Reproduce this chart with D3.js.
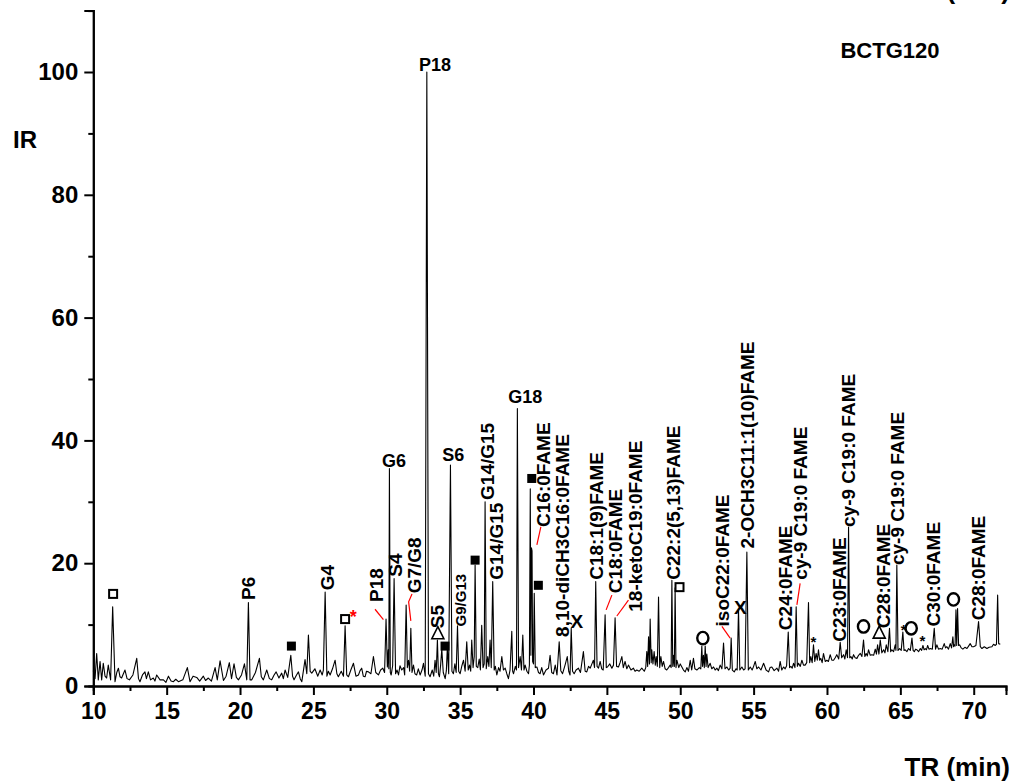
<!DOCTYPE html>
<html>
<head>
<meta charset="utf-8">
<script src="https://cdn.jsdelivr.net/npm/d3@7"></script>
<style>
  body { margin: 0; background: #fff; }
  svg text { font-family: "Liberation Sans", Arial, sans-serif; font-weight: bold; }
</style>
</head>
<body>
<svg id="chart" width="1015" height="782"></svg>
<script>
// chromatogram trace: [TR (min), IR]
const tracePoints = [
  [10.0, 2.5], [10.12, 1.2], [10.23, 5.3], [10.34, 1.0], [10.46, 4.0], [10.57, 1.0], [10.68, 3.7], [10.8, 1.6],
  [10.91, 1.3], [11.02, 3.4], [11.18, 1.0], [11.32, 12.9], [11.48, 0.7], [11.6, 2.2], [11.71, 2.9], [11.82, 1.5],
  [11.93, 1.3], [12.05, 2.0], [12.16, 2.6], [12.3, 1.2], [12.46, 1.0], [12.7, 1.8], [12.96, 4.5], [13.08, 1.2],
  [13.18, 0.7], [13.35, 1.8], [13.52, 2.3], [13.62, 1.2], [13.75, 2.3], [13.9, 1.0], [14.09, 1.3], [14.2, 0.8],
  [14.32, 1.8], [14.55, 1.0], [14.78, 1.0], [14.95, 0.6], [15.12, 1.6], [15.3, 0.8], [15.46, 0.7], [15.62, 1.1],
  [15.8, 0.7], [16.1, 1.0], [16.41, 3.0], [16.59, 0.7], [16.8, 1.6], [17.05, 1.4], [17.25, 0.8], [17.5, 1.6],
  [17.65, 0.9], [17.84, 1.3], [18.05, 0.8], [18.3, 3.0], [18.45, 1.0], [18.64, 4.1], [18.87, 0.9], [19.05, 1.6],
  [19.27, 3.8], [19.42, 1.2], [19.59, 3.6], [19.75, 1.4], [19.89, 1.0], [20.1, 1.8], [20.3, 3.6], [20.46, 1.0],
  [20.57, 13.6], [20.68, 1.0], [20.8, 1.0], [21.05, 2.2], [21.32, 4.5], [21.45, 1.5], [21.59, 1.0], [21.82, 2.6],
  [22.0, 1.2], [22.16, 1.0], [22.32, 1.8], [22.46, 2.3], [22.65, 1.3], [22.84, 2.1], [22.95, 1.2], [23.07, 2.6],
  [23.25, 1.4], [23.46, 5.0], [23.58, 1.6], [23.68, 1.0], [23.85, 1.8], [23.98, 2.3], [24.1, 1.2], [24.21, 0.7],
  [24.43, 4.3], [24.55, 2.0], [24.66, 8.3], [24.78, 2.4], [24.89, 2.1], [25.1, 2.8], [25.3, 1.6], [25.46, 2.6],
  [25.6, 1.8], [25.68, 2.6], [25.8, 15.3], [25.92, 1.6], [26.02, 2.4], [26.14, 1.8], [26.3, 2.8], [26.48, 4.2],
  [26.6, 2.0], [26.7, 1.5], [26.9, 2.4], [27.05, 1.6], [27.16, 9.8], [27.27, 1.8], [27.39, 1.5], [27.55, 2.6],
  [27.73, 3.7], [27.9, 1.6], [28.07, 1.8], [28.18, 2.5], [28.29, 2.9], [28.4, 1.6], [28.52, 1.5], [28.62, 2.4],
  [28.75, 2.3], [28.92, 2.0], [29.09, 4.8], [29.25, 2.2], [29.43, 1.8], [29.58, 2.6], [29.73, 2.9], [29.85, 2.2],
  [29.95, 10.9], [30.04, 3.1], [30.1, 5.9], [30.14, 2.8], [30.18, 35.4], [30.24, 2.2], [30.3, 1.8], [30.4, 3.3],
  [30.5, 17.5], [30.6, 2.0], [30.7, 2.6], [30.8, 1.8], [30.9, 3.3], [31.02, 2.6], [31.15, 3.0], [31.22, 1.8],
  [31.32, 13.2], [31.4, 3.0], [31.48, 4.2], [31.56, 2.4], [31.64, 9.4], [31.72, 2.2], [31.82, 3.4], [31.92, 2.0],
  [32.04, 1.8], [32.15, 2.8], [32.27, 1.8], [32.4, 2.6], [32.5, 3.7], [32.62, 1.6], [32.73, 100], [32.84, 2.0],
  [32.95, 1.5], [33.1, 2.6], [33.2, 1.6], [33.29, 4.2], [33.37, 2.2], [33.45, 7.5], [33.52, 2.0], [33.59, 1.5],
  [33.67, 3.4], [33.75, 6.0], [33.85, 2.2], [33.98, 1.2], [34.06, 2.5], [34.13, 6.4], [34.22, 2.0], [34.34, 36.0],
  [34.44, 2.4], [34.54, 2.0], [34.64, 3.6], [34.73, 2.2], [34.82, 9.8], [34.9, 2.4], [35.0, 2.0], [35.12, 3.3],
  [35.23, 4.2], [35.34, 2.4], [35.45, 7.2], [35.55, 2.6], [35.64, 3.4], [35.72, 2.4], [35.79, 7.5], [35.88, 3.0],
  [35.96, 4.8], [36.02, 19.7], [36.1, 3.2], [36.2, 3.0], [36.3, 4.4], [36.38, 2.6], [36.47, 9.9], [36.56, 3.0],
  [36.64, 3.6], [36.7, 30.0], [36.78, 2.8], [36.88, 4.8], [36.96, 3.2], [37.04, 7.5], [37.12, 3.0], [37.22, 17.0],
  [37.32, 2.6], [37.4, 3.2], [37.5, 1.8], [37.62, 3.0], [37.72, 2.4], [37.84, 4.8], [37.95, 2.6], [38.07, 2.9],
  [38.18, 2.0], [38.29, 1.2], [38.4, 2.6], [38.52, 8.9], [38.58, 2.4], [38.64, 2.0], [38.76, 3.2], [38.84, 2.6],
  [38.9, 45.2], [38.98, 3.0], [39.09, 4.8], [39.18, 2.6], [39.27, 8.3], [39.35, 2.6], [39.43, 3.4], [39.55, 2.4],
  [39.66, 2.0], [39.72, 3.4], [39.78, 32.1], [39.82, 5.0], [39.86, 22.5], [39.9, 22.0], [39.94, 4.0], [40.0, 3.6],
  [40.05, 15.1], [40.12, 3.0], [40.23, 3.1], [40.34, 2.2], [40.45, 2.0], [40.56, 3.0], [40.68, 1.8], [40.85, 2.6],
  [41.02, 2.9], [41.13, 5.0], [41.24, 2.2], [41.36, 2.0], [41.48, 3.4], [41.6, 1.8], [41.75, 7.2], [41.86, 2.5],
  [41.98, 2.0], [42.15, 3.4], [42.3, 4.8], [42.4, 2.4], [42.49, 1.8], [42.57, 9.4], [42.66, 2.4], [42.77, 2.0],
  [42.9, 2.6], [43.06, 2.9], [43.2, 2.2], [43.4, 5.6], [43.52, 2.4], [43.63, 2.3], [43.75, 3.2], [43.86, 2.9],
  [43.98, 3.6], [44.08, 4.2], [44.16, 3.0], [44.24, 17.0], [44.33, 3.2], [44.43, 2.9], [44.54, 4.0], [44.65, 2.8],
  [44.75, 2.6], [44.88, 11.6], [44.96, 3.0], [45.04, 3.1], [45.2, 3.6], [45.34, 2.9], [45.45, 3.4], [45.56, 11.1],
  [45.66, 3.2], [45.79, 3.1], [45.9, 3.8], [46.02, 4.8], [46.12, 3.0], [46.24, 4.0], [46.36, 2.8], [46.47, 3.4],
  [46.64, 2.6], [46.81, 2.9], [46.92, 2.4], [47.04, 2.6], [47.2, 2.4], [47.38, 2.9], [47.55, 2.4], [47.65, 3.0],
  [47.72, 5.6], [47.78, 3.2], [47.84, 8.0], [47.9, 3.6], [47.95, 10.9], [48.02, 3.8], [48.06, 5.9], [48.14, 3.6],
  [48.22, 5.6], [48.3, 3.4], [48.36, 4.8], [48.44, 3.2], [48.52, 14.5], [48.6, 3.0], [48.68, 4.8], [48.77, 3.2],
  [48.86, 4.0], [48.97, 2.8], [49.08, 2.6], [49.2, 3.0], [49.31, 3.4], [49.38, 3.0], [49.43, 17.2], [49.49, 3.2],
  [49.54, 5.0], [49.6, 3.2], [49.65, 16.0], [49.71, 3.0], [49.77, 4.2], [49.9, 3.0], [50.0, 3.6], [50.11, 3.1],
  [50.22, 2.6], [50.34, 2.3], [50.45, 3.0], [50.56, 2.4], [50.68, 4.2], [50.78, 2.6], [50.9, 4.5], [51.0, 2.8],
  [51.13, 2.6], [51.3, 3.0], [51.4, 2.8], [51.47, 6.5], [51.52, 3.2], [51.58, 5.0], [51.64, 3.0], [51.7, 6.5],
  [51.76, 3.2], [51.81, 5.2], [51.9, 3.0], [52.04, 3.7], [52.15, 2.8], [52.27, 3.1], [52.38, 2.6], [52.5, 2.9],
  [52.6, 2.5], [52.72, 3.4], [52.84, 2.8], [52.95, 7.0], [53.05, 2.8], [53.18, 3.1], [53.3, 2.6], [53.4, 2.9],
  [53.47, 7.8], [53.55, 2.6], [53.68, 2.3], [53.8, 2.8], [53.88, 2.6], [53.97, 12.5], [54.06, 2.6], [54.2, 3.1],
  [54.32, 2.6], [54.42, 2.8], [54.54, 21.8], [54.64, 2.6], [54.77, 3.1], [54.9, 2.6], [55.0, 3.2], [55.11, 4.0],
  [55.22, 2.8], [55.34, 3.1], [55.5, 2.6], [55.68, 3.7], [55.85, 2.6], [56.02, 2.3], [56.12, 3.0], [56.24, 3.1],
  [56.4, 2.5], [56.59, 2.9], [56.7, 2.4], [56.81, 4.0], [56.92, 2.6], [57.04, 3.1], [57.15, 2.8], [57.25, 3.3],
  [57.36, 8.8], [57.45, 3.0], [57.54, 3.2], [57.63, 2.9], [57.72, 3.7], [57.82, 3.0], [57.9, 12.9], [57.98, 3.2],
  [58.06, 3.7], [58.18, 3.2], [58.29, 4.2], [58.4, 3.4], [58.51, 3.4], [58.62, 3.8], [58.74, 13.6], [58.82, 3.8],
  [58.9, 4.8], [58.99, 3.8], [59.08, 6.7], [59.17, 4.0], [59.26, 5.3], [59.34, 4.2], [59.42, 5.9], [59.5, 4.2],
  [59.58, 4.5], [59.67, 3.8], [59.76, 5.3], [59.88, 4.0], [59.99, 4.2], [60.1, 4.0], [60.22, 5.1], [60.33, 4.2],
  [60.45, 4.2], [60.56, 4.6], [60.67, 5.1], [60.8, 4.4], [60.9, 7.1], [61.0, 4.6], [61.13, 5.1], [61.22, 4.4],
  [61.31, 5.9], [61.4, 4.6], [61.47, 25.9], [61.55, 4.6], [61.63, 4.8], [61.72, 4.4], [61.81, 5.1], [61.92, 4.6],
  [62.04, 4.5], [62.15, 5.0], [62.27, 5.3], [62.38, 4.8], [62.49, 7.5], [62.58, 4.8], [62.67, 5.3], [62.75, 4.9],
  [62.83, 5.9], [62.95, 5.0], [63.06, 5.1], [63.18, 5.0], [63.29, 6.0], [63.37, 5.2], [63.45, 6.7], [63.54, 5.2],
  [63.63, 7.5], [63.74, 5.4], [63.86, 5.9], [63.95, 5.4], [64.04, 6.7], [64.15, 5.6], [64.26, 9.4], [64.34, 5.6],
  [64.42, 5.9], [64.54, 5.6], [64.65, 6.7], [64.7, 5.8], [64.76, 19.7], [64.84, 5.8], [64.95, 6.1], [65.06, 5.8],
  [65.17, 8.8], [65.25, 5.8], [65.33, 5.9], [65.45, 5.6], [65.56, 6.1], [65.68, 5.8], [65.79, 7.8], [65.87, 5.8],
  [65.95, 5.6], [66.04, 6.0], [66.13, 5.9], [66.25, 5.6], [66.36, 6.1], [66.45, 5.8], [66.54, 6.6], [66.62, 5.9],
  [66.7, 6.1], [66.78, 5.9], [66.86, 6.6], [66.95, 6.0], [67.04, 6.1], [67.18, 6.0], [67.31, 9.4], [67.4, 6.0],
  [67.49, 6.7], [67.6, 6.0], [67.72, 6.1], [67.85, 6.0], [67.99, 6.9], [68.08, 6.2], [68.17, 6.4], [68.28, 6.0],
  [68.4, 6.9], [68.49, 6.2], [68.58, 8.0], [68.63, 6.4], [68.67, 6.7], [68.73, 6.5], [68.79, 12.4], [68.84, 6.6],
  [68.9, 12.6], [68.97, 6.6], [69.04, 6.7], [69.15, 6.2], [69.26, 6.0], [69.4, 6.3], [69.54, 6.1], [69.65, 6.5],
  [69.76, 6.9], [69.88, 6.4], [69.99, 6.4], [70.15, 6.6], [70.33, 10.5], [70.45, 6.4], [70.56, 6.1], [70.72, 6.4],
  [70.9, 6.1], [71.05, 6.3], [71.24, 6.4], [71.35, 6.8], [71.47, 6.6], [71.55, 6.8], [71.63, 14.8], [71.7, 6.9],
  [71.81, 6.8]
];

// vertical peak names: [TR, IR at start of text, text]
const peakLabels = [
  [20.57, 14.0, "P6"],
  [25.91, 15.6, "G4"],
  [29.27, 13.7, "P18"],
  [30.57, 17.8, "S4"],
  [31.86, 15.1, "G7/G8"],
  [33.41, 9.4, "S5"],
  [36.86, 30.3, "G14/G15"],
  [37.43, 17.3, "G14/G15"],
  [40.67, 25.9, "C16:0FAME"],
  [41.97, 8.0, "8,10-diCH3C16:0FAME"],
  [44.25, 17.3, "C18:1(9)FAME"],
  [45.56, 15.1, "C18:0FAME"],
  [46.93, 12.1, "18-ketoC19:0FAME"],
  [49.54, 17.3, "C22:2(5,13)FAME"],
  [52.84, 9.7, "isoC22:0FAME"],
  [54.54, 22.4, "2-OCH3C11:1(10)FAME"],
  [57.15, 9.1, "C24:0FAME"],
  [58.17, 17.3, "cy-9 C19:0 FAME"],
  [60.85, 7.2, "C23:0FAME"],
  [61.47, 25.9, "cy-9 C19:0 FAME"],
  [63.81, 9.4, "C28:0FAME"],
  [64.77, 19.7, "cy-9 C19:0 FAME"],
  [67.26, 9.7, "C30:0FAME"],
  [70.33, 10.7, "C28:0FAME"]
];
const smallLabels = [[35.0, 9.7, "G9/G13"]];

// horizontal peak names: [TR, IR of baseline, text]
const topLabels = [
  [33.29, 100.2, "P18"],
  [30.5, 35.7, "G6"],
  [34.54, 36.6, "S6"],
  [39.43, 46.1, "G18"]
];

// symbols: [TR, IR, kind]
const symbols = [
  [11.35, 15.0, "openSquare"],
  [23.5, 6.5, "square"],
  [27.16, 10.9, "openSquare"],
  [27.72, 12.1, "redStar"],
  [33.48, 8.6, "triangle"],
  [33.97, 6.5, "square"],
  [36.02, 20.5, "square"],
  [39.88, 33.8, "square"],
  [40.33, 16.4, "square"],
  [42.95, 10.5, "cross"],
  [49.95, 16.1, "openSquare"],
  [51.54, 7.8, "circle"],
  [54.1, 12.8, "cross"],
  [59.08, 7.8, "star"],
  [62.49, 9.7, "circle"],
  [63.56, 8.7, "triangle"],
  [65.22, 9.9, "star"],
  [65.74, 9.4, "circle"],
  [66.51, 8.0, "star"],
  [68.62, 14.1, "circle"]
];

// red leader lines
const leaders = [
  [[29.2, 12.5], [29.77, 10.8]],
  [[31.72, 15.0], [31.49, 13.7], [31.64, 10.6]],
  [[40.5, 25.9], [40.23, 23.0]],
  [[45.34, 14.8], [44.95, 12.4]],
  [[46.47, 14.0], [45.68, 11.4]],
  [[52.84, 9.7], [53.4, 7.8]],
  [[58.17, 16.7], [57.95, 13.2]]
];

const xMajorTicks = [10, 15, 20, 25, 30, 35, 40, 45, 50, 55, 60, 65, 70];
const yMajorTicks = [0, 20, 40, 60, 80, 100];

const margin = { top: 10.6, right: 9, bottom: 96, left: 93.3 };
const width = 1015 - margin.left - margin.right;
const height = 782 - margin.top - margin.bottom;

const svg = d3.select("#chart");
const g = svg.append("g").attr("transform", `translate(${margin.left},${margin.top})`);

const x = d3.scaleLinear().domain([10, 72.2]).range([0, width]);
const y = d3.scaleLinear().domain([0, 110]).range([height, 0]);

// axes
const xMinor = d3.axisBottom(x).tickValues(d3.range(12.5, 72.2, 5)).tickSize(5).tickFormat("");
const xMajor = d3.axisBottom(x).tickValues(xMajorTicks).tickSize(9).tickPadding(8);
const yMinor = d3.axisLeft(y).tickValues(d3.range(10, 111, 20)).tickSize(5).tickFormat("");
const yMajor = d3.axisLeft(y).tickValues(yMajorTicks).tickSize(9).tickPadding(6);

function styleAxis(sel, size) {
  sel.select(".domain").attr("stroke", "#000").attr("stroke-width", 2);
  sel.selectAll(".tick line").attr("stroke", "#000").attr("stroke-width", 2);
  sel.selectAll(".tick text").attr("fill", "#000")
    .style("font-size", size + "px").style("font-family", "'Liberation Sans', Arial, sans-serif")
    .style("font-weight", "bold");
}

g.append("g").attr("transform", `translate(0,${height})`).call(xMinor).call(s => styleAxis(s, 23));
g.append("g").attr("transform", `translate(0,${height})`).call(xMajor).call(s => styleAxis(s, 23));
g.append("g").call(yMinor).call(s => styleAxis(s, 24));
g.append("g").call(yMajor).call(s => styleAxis(s, 24));

// trace
const line = d3.line().x(d => x(d[0])).y(d => y(d[1]));
g.append("path")
  .datum(tracePoints)
  .attr("fill", "none")
  .attr("stroke", "#000")
  .attr("stroke-width", 1.1)
  .attr("stroke-linejoin", "round")
  .attr("d", line);

// red leaders
g.selectAll(".leader")
  .data(leaders)
  .join("path")
  .attr("class", "leader")
  .attr("fill", "none")
  .attr("stroke", "#ff0000")
  .attr("stroke-width", 1.2)
  .attr("d", d3.line().x(d => x(d[0])).y(d => y(d[1])));

// vertical labels
g.selectAll(".vlabel")
  .data(peakLabels)
  .join("text")
  .attr("class", "vlabel")
  .attr("transform", d => `translate(${x(d[0])},${y(d[1])}) rotate(-90)`)
  .attr("dy", "0.36em")
  .style("font-size", "19px")
  .text(d => d[2]);

g.selectAll(".slabel")
  .data(smallLabels)
  .join("text")
  .attr("class", "slabel")
  .attr("transform", d => `translate(${x(d[0])},${y(d[1])}) rotate(-90)`)
  .attr("dy", "0.36em")
  .style("font-size", "15px")
  .text(d => d[2]);

g.selectAll(".hlabel")
  .data(topLabels)
  .join("text")
  .attr("class", "hlabel")
  .attr("x", d => x(d[0]))
  .attr("y", d => y(d[1]))
  .attr("text-anchor", "middle")
  .style("font-size", "18px")
  .text(d => d[2]);

// symbols
const sym = g.selectAll(".sym")
  .data(symbols)
  .join("g")
  .attr("class", "sym")
  .attr("transform", d => `translate(${x(d[0])},${y(d[1])})`);

sym.filter(d => d[2] === "openSquare").append("rect")
  .attr("x", -4).attr("y", -4).attr("width", 8).attr("height", 8)
  .attr("fill", "#fff").attr("stroke", "#000").attr("stroke-width", 2);
sym.filter(d => d[2] === "square").append("rect")
  .attr("x", -4.5).attr("y", -4.5).attr("width", 9).attr("height", 9)
  .attr("fill", "#000");
sym.filter(d => d[2] === "triangle").append("path")
  .attr("d", "M0,-6.5L6,5.5L-6,5.5Z")
  .attr("fill", "#fff").attr("stroke", "#000").attr("stroke-width", 1.6);
sym.filter(d => d[2] === "circle").append("ellipse")
  .attr("rx", 5.6).attr("ry", 6.2)
  .attr("fill", "none").attr("stroke", "#000").attr("stroke-width", 2.4);
sym.filter(d => d[2] === "cross").append("text")
  .attr("text-anchor", "middle").attr("dy", "0.36em")
  .style("font-size", "19px")
  .text("X");
sym.filter(d => d[2] === "star").append("text")
  .attr("text-anchor", "middle").attr("dy", "0.62em")
  .style("font-size", "15px")
  .text("*");
sym.filter(d => d[2] === "redStar").append("text")
  .attr("text-anchor", "middle").attr("dy", "0.62em")
  .attr("fill", "#ff0000")
  .style("font-size", "18px")
  .text("*");

// titles
svg.append("text").attr("x", 890).attr("y", 58).attr("text-anchor", "middle")
  .style("font-size", "22px").text("BCTG120");
svg.append("text").attr("x", 13).attr("y", 148)
  .style("font-size", "24px").text("IR");
svg.append("text").attr("x", 1010).attr("y", 776).attr("text-anchor", "end")
  .style("font-size", "26px").text("TR (min)");
// clipped remnant of an axis title at the very top edge
svg.append("text").attr("x", 1010).attr("y", -1).attr("text-anchor", "end")
  .style("font-size", "26px").text("TR (min)");
</script>
</body>
</html>
